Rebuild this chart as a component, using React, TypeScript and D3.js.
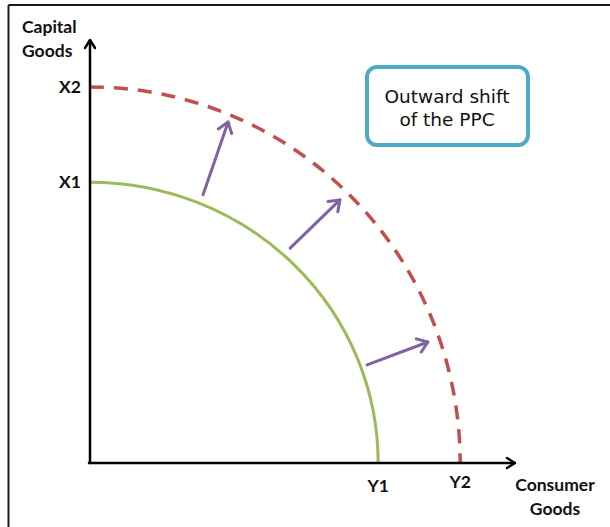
import React, { useEffect, useRef } from 'react';
import * as d3 from 'd3';

// Intercepts of the two PPCs (units on a 0-100 scale)
const curveNames = ['PPC1', 'PPC2'];
const capitalIntercepts = [66.4, 88.9]; // X1, X2
const consumerIntercepts = [67.8, 87.1]; // Y1, Y2
const capitalTickLabels = ['X1', 'X2'];
const consumerTickLabels = ['Y1', 'Y2'];

// Shift arrows: [consumer, capital] start and end
const arrowStarts: [number, number][] = [[26.6, 63.4], [47.1, 50.8], [65.2, 23.2]];
const arrowEnds: [number, number][] = [[32.5, 80.6], [58.8, 62.2], [79.5, 28.6]];

const calloutLines = ['Outward shift', 'of the PPC'];

const W = 610;
const H = 527;

const App: React.FC = () => {
    const svgRef = useRef<SVGSVGElement>(null);

    useEffect(() => {
        if (!svgRef.current) return;
        const svg = d3.select(svgRef.current);
        svg.selectAll('*').remove();

        const x = d3.scaleLinear().domain([0, 100]).range([90, 515]);
        const y = d3.scaleLinear().domain([0, 100]).range([463, 40]);

        // frame lines (top + left)
        svg.append('line').attr('x1', 8.5).attr('y1', 5).attr('x2', W).attr('y2', 5)
            .attr('stroke', '#1a1a1a').attr('stroke-width', 2);
        svg.append('line').attr('x1', 8.5).attr('y1', 5).attr('x2', 8.5).attr('y2', H)
            .attr('stroke', '#1a1a1a').attr('stroke-width', 2);

        // PPC curves: quarter ellipses through the intercepts
        const colors = ['#9bbb59', '#c0504d'];
        curveNames.forEach((name, i) => {
            const x0 = x(0), y0 = y(0);
            const rx = x(consumerIntercepts[i]) - x0;
            const ry = y0 - y(capitalIntercepts[i]);
            const path = `M${x0},${y(capitalIntercepts[i])} A${rx},${ry} 0 0 1 ${x(consumerIntercepts[i])},${y0}`;
            svg.append('path')
                .attr('class', name)
                .attr('d', path)
                .attr('fill', 'none')
                .attr('stroke', colors[i])
                .attr('stroke-width', i === 1 ? 3.5 : 3)
                .attr('stroke-dasharray', i === 1 ? '14 10' : null);
        });

        // shift arrows
        const purple = '#8064a2';
        arrowStarts.forEach((s, i) => {
            const e = arrowEnds[i];
            const x1 = x(s[0]), y1 = y(s[1]), x2 = x(e[0]), y2 = y(e[1]);
            const ang = Math.atan2(y2 - y1, x2 - x1);
            const len = 12;
            const spread = Math.PI / 5;
            const g = svg.append('g').attr('stroke', purple).attr('stroke-width', 3)
                .attr('fill', 'none').attr('stroke-linecap', 'round').attr('stroke-linejoin', 'round');
            g.append('line').attr('x1', x1).attr('y1', y1).attr('x2', x2).attr('y2', y2);
            g.append('polyline').attr('points', [
                [x2 - len * Math.cos(ang - spread), y2 - len * Math.sin(ang - spread)],
                [x2, y2],
                [x2 - len * Math.cos(ang + spread), y2 - len * Math.sin(ang + spread)],
            ].map(p => p.join(',')).join(' '));
        });

        // axes
        const axes = svg.append('g').attr('stroke', '#000').attr('stroke-width', 2.5)
            .attr('fill', 'none').attr('stroke-linecap', 'round').attr('stroke-linejoin', 'round');
        axes.append('line').attr('x1', x(0)).attr('y1', y(0)).attr('x2', x(0)).attr('y2', y(100) + 1);
        axes.append('polyline').attr('points', `${x(0) - 5},${y(100) + 8} ${x(0)},${y(100)} ${x(0) + 5},${y(100) + 8}`);
        axes.append('line').attr('x1', x(0) - 1).attr('y1', y(0)).attr('x2', x(100) - 1).attr('y2', y(0));
        axes.append('polyline').attr('points', `${x(100) - 8},${y(0) - 5} ${x(100)},${y(0)} ${x(100) - 8},${y(0) + 5}`);

        const font = 'Lato, "Open Sans", sans-serif';
        const label = (tx: number, ty: number, t: string, anchor: string) =>
            svg.append('text').attr('x', tx).attr('y', ty).attr('text-anchor', anchor)
                .attr('font-family', font).attr('font-weight', 'bold').attr('font-size', 17.5)
                .attr('fill', '#111').text(t);

        capitalTickLabels.forEach((t, i) => label(x(0) - 9, y(capitalIntercepts[i]) + 6, t, 'end'));
        label(x(consumerIntercepts[0]), 492, consumerTickLabels[0], 'middle');
        label(x(consumerIntercepts[1]), 488, consumerTickLabels[1], 'middle');

        label(22, 33, 'Capital', 'start');
        label(22, 57, 'Goods', 'start');
        label(555, 491, 'Consumer', 'middle');
        label(555, 515, 'Goods', 'middle');

        // callout box
        svg.append('rect').attr('x', 367).attr('y', 67).attr('width', 161).attr('height', 78)
            .attr('rx', 10).attr('fill', '#fff').attr('stroke', '#4bacc6').attr('stroke-width', 4);
        calloutLines.forEach((t, i) => {
            svg.append('text').attr('x', 447).attr('y', 103 + i * 23).attr('text-anchor', 'middle')
                .attr('font-family', '"DejaVu Sans", sans-serif').attr('font-size', 18.5)
                .attr('fill', '#111').text(t);
        });
    }, []);

    return (
        <svg ref={svgRef} width={W} height={H}
            style={{ position: 'absolute', left: 0, top: 0, background: '#fff' }} />
    );
};

export default App;
